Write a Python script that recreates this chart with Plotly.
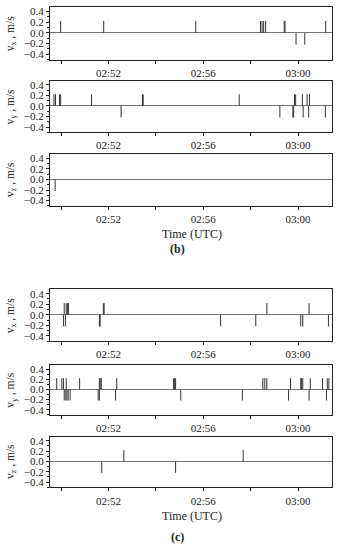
import plotly.graph_objects as go

# ---------------- data (event times HH:MM:SS, velocity m/s) ----------------
b_vx_time = ["02:49:59", "02:51:48", "02:55:41", "02:58:25", "02:58:29", "02:58:33",
             "02:58:38", "02:59:25", "02:59:27", "03:01:10", "02:59:55", "03:00:17"]
b_vx_val = [0.22, 0.22, 0.22, 0.22, 0.22, 0.22, 0.22, 0.22, 0.22, 0.22, -0.22, -0.22]

b_vy_time = ["02:49:42", "02:49:46", "02:49:56", "02:49:59", "02:51:17", "02:53:26",
             "02:53:28", "02:57:31", "02:59:51", "02:59:54", "03:00:11", "03:00:23",
             "03:00:29",
             "02:52:32", "02:59:14", "02:59:47", "02:59:49", "03:00:13", "03:00:27",
             "03:01:09"]
b_vy_val = [0.22] * 13 + [-0.22] * 7

b_vz_time = ["02:49:45"]
b_vz_val = [-0.22]

c_vx_time = ["02:50:08", "02:50:13", "02:50:16", "02:50:19", "02:51:47", "02:51:49",
             "02:58:41", "03:00:28",
             "02:50:06", "02:50:11", "02:51:37", "02:51:39", "02:56:44", "02:58:13",
             "03:00:07", "03:00:12", "03:01:17"]
c_vx_val = [0.22] * 8 + [-0.22] * 9

c_vy_time = ["02:49:49", "02:50:02", "02:50:06", "02:50:13", "02:50:47", "02:51:37",
             "02:51:39", "02:51:42", "02:52:21", "02:54:45", "02:54:47", "02:54:50",
             "02:58:31", "02:58:36", "02:58:41", "02:59:41", "03:00:07", "03:00:09",
             "03:00:12", "03:00:31", "03:01:02", "03:01:14", "03:01:18",
             "02:50:08", "02:50:12", "02:50:15", "02:50:18", "02:50:23", "02:51:34",
             "02:51:37", "02:52:18", "02:55:03", "02:57:39", "02:59:36", "03:00:28",
             "03:01:12"]
c_vy_val = [0.22] * 23 + [-0.22] * 13

c_vz_time = ["02:51:43", "02:52:39", "02:54:50", "02:57:41"]
c_vz_val = [-0.22, 0.22, -0.22, 0.22]

y_titles = ["v<sub>x</sub> , m/s", "v<sub>y</sub> , m/s", "v<sub>z</sub> , m/s"]
x_tick_start = "02:52:00"
x_range = ["02:49:32", "03:01:26"]
panel_labels = ["(b)", "(c)"]
x_title = "Time (UTC)"

DAY = "2020-01-01 "
series = [(b_vx_time, b_vx_val), (b_vy_time, b_vy_val), (b_vz_time, b_vz_val),
          (c_vx_time, c_vx_val), (c_vy_time, c_vy_val), (c_vz_time, c_vz_val)]

W, H = 341, 550
panel_px = [(5, 58), (79, 131), (153, 205), (289, 341), (365, 415), (437, 488)]
x_dom = [50 / W, 332 / W]
FONT = "Liberation Serif, Times New Roman, Times, serif"

fig = go.Figure()
layout = dict(
    width=W, height=H, margin=dict(l=0, r=0, t=0, b=0),
    paper_bgcolor="white", plot_bgcolor="white", showlegend=False,
    font=dict(family=FONT, size=11, color="#222"),
)
annotations = []

for i, ((times, vals), (top, bot)) in enumerate(zip(series, panel_px), start=1):
    xs, ys = [], []
    for t, v in zip(times, vals):
        xs += [DAY + t, DAY + t, None]
        ys += [0, v, None]
    fig.add_trace(go.Scatter(x=xs, y=ys, mode="lines", xaxis=f"x{i}", yaxis=f"y{i}",
                             line=dict(color="#333", width=1), hoverinfo="skip"))
    layout[f"xaxis{i}"] = dict(
        domain=x_dom, anchor=f"y{i}", type="date",
        range=[DAY + x_range[0], DAY + x_range[1]],
        tick0=DAY + x_tick_start, dtick=240000, tickformat="%H:%M",
        ticks="outside", ticklen=3, tickwidth=1, tickcolor="#222",
        showline=True, mirror=True, linecolor="#222", linewidth=1,
        showgrid=False, zeroline=False,
        tickfont=dict(family=FONT, size=11, color="#222"),
        minor=dict(dtick=120000, tick0=DAY + x_tick_start, ticks="outside",
                   ticklen=3, tickcolor="#222", showgrid=False),
    )
    layout[f"yaxis{i}"] = dict(
        domain=[1 - bot / H, 1 - top / H], anchor=f"x{i}",
        range=[-0.5, 0.48], tick0=0, dtick=0.2, tickformat=".1f",
        ticks="outside", ticklen=3, tickwidth=1, tickcolor="#222",
        showline=True, mirror=True, linecolor="#222", linewidth=1,
        showgrid=False, zeroline=True, zerolinecolor="#777", zerolinewidth=1,
        tickfont=dict(family=FONT, size=11, color="#222"),
        minor=dict(dtick=0.1, ticks="outside", ticklen=2, tickcolor="#222",
                   showgrid=False),
    )
    annotations.append(dict(
        text=y_titles[(i - 1) % 3], xref="paper", yref="paper",
        x=11 / W, y=1 - (top + bot) / 2 / H, xanchor="center", yanchor="middle",
        textangle=-90, showarrow=False, font=dict(family=FONT, size=11.5, color="#222"),
    ))

for label, ty, ly in zip(panel_labels, [233, 517], [248, 538]):
    annotations.append(dict(text=x_title, xref="paper", yref="paper", x=192 / W,
                            y=1 - ty / H, xanchor="center", yanchor="middle",
                            showarrow=False,
                            font=dict(family=FONT, size=12, color="#222")))
    annotations.append(dict(text=f"<b>{label}</b>", xref="paper", yref="paper",
                            x=177 / W, y=1 - ly / H, xanchor="center", yanchor="middle",
                            showarrow=False,
                            font=dict(family=FONT, size=12, color="#222")))

layout["annotations"] = annotations
fig.update_layout(**layout)
fig.write_html("out.html", config={"displayModeBar": False},
               post_script="document.body.style.margin='0';")
